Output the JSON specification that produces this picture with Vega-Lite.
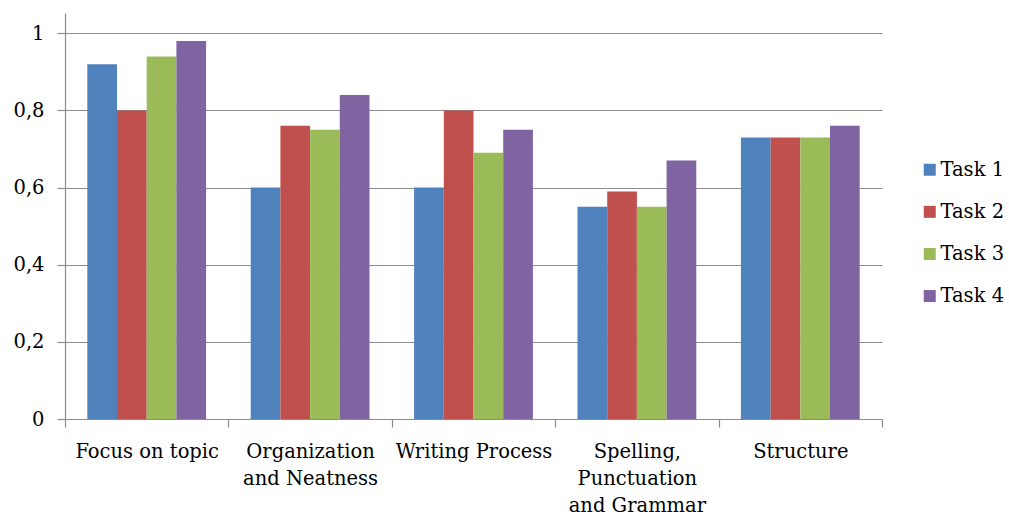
{
  "$schema": "https://vega.github.io/schema/vega-lite/v6.json",
  "autosize": {"type": "none"},
  "padding": {"left": 65, "top": 13, "right": 127, "bottom": 110},
  "width": 817,
  "height": 406,
  "background": "white",
  "config": {
    "view": {"stroke": null},
    "font": "DejaVu Serif",
    "axis": {"labelFont": "DejaVu Serif", "labelFontSize": 19.5, "labelColor": "#000000", "domainColor": "#8c8c8c", "tickColor": "#8c8c8c", "gridColor": "#8c8c8c", "domainWidth": 1.2, "tickWidth": 1.2, "gridWidth": 1.2},
    "legend": {"labelFont": "DejaVu Serif", "labelFontSize": 19.5, "labelColor": "#000000"}
  },
  "data": {
    "values": [
      {"category": "Focus on topic", "task": "Task 1", "value": 0.92},
      {"category": "Focus on topic", "task": "Task 2", "value": 0.80},
      {"category": "Focus on topic", "task": "Task 3", "value": 0.94},
      {"category": "Focus on topic", "task": "Task 4", "value": 0.98},
      {"category": "Organization and Neatness", "task": "Task 1", "value": 0.60},
      {"category": "Organization and Neatness", "task": "Task 2", "value": 0.76},
      {"category": "Organization and Neatness", "task": "Task 3", "value": 0.75},
      {"category": "Organization and Neatness", "task": "Task 4", "value": 0.84},
      {"category": "Writing Process", "task": "Task 1", "value": 0.60},
      {"category": "Writing Process", "task": "Task 2", "value": 0.80},
      {"category": "Writing Process", "task": "Task 3", "value": 0.69},
      {"category": "Writing Process", "task": "Task 4", "value": 0.75},
      {"category": "Spelling, Punctuation and Grammar", "task": "Task 1", "value": 0.55},
      {"category": "Spelling, Punctuation and Grammar", "task": "Task 2", "value": 0.59},
      {"category": "Spelling, Punctuation and Grammar", "task": "Task 3", "value": 0.55},
      {"category": "Spelling, Punctuation and Grammar", "task": "Task 4", "value": 0.67},
      {"category": "Structure", "task": "Task 1", "value": 0.73},
      {"category": "Structure", "task": "Task 2", "value": 0.73},
      {"category": "Structure", "task": "Task 3", "value": 0.73},
      {"category": "Structure", "task": "Task 4", "value": 0.76}
    ]
  },
  "mark": {"type": "bar"},
  "encoding": {
    "x": {
      "field": "category",
      "type": "nominal",
      "sort": null,
      "scale": {"paddingInner": 0, "paddingOuter": 0},
      "axis": {
        "title": null,
        "labelAngle": 0,
        "grid": false,
        "tickBand": "extent",
        "tickSize": 8,
        "labelPadding": 15,
        "labelBaseline": "top",
        "labelLineHeight": 27,
        "labelLimit": 0,
        "labelExpr": "datum.value == 'Organization and Neatness' ? ['Organization', 'and Neatness'] : datum.value == 'Spelling, Punctuation and Grammar' ? ['Spelling,', 'Punctuation', 'and Grammar'] : datum.label"
      }
    },
    "xOffset": {
      "field": "task",
      "type": "nominal",
      "scale": {"paddingInner": 0, "paddingOuter": 0.751}
    },
    "y": {
      "field": "value",
      "type": "quantitative",
      "scale": {"domain": [0, 1.0526], "nice": false},
      "axis": {
        "title": null,
        "values": [0, 0.2, 0.4, 0.6, 0.8, 1],
        "tickSize": 8,
        "labelPadding": 13,
        "labelExpr": "replace(format(datum.value, '~g'), '.', ',')"
      }
    },
    "color": {
      "field": "task",
      "type": "nominal",
      "scale": {"domain": ["Task 1", "Task 2", "Task 3", "Task 4"], "range": ["#4F81BD", "#C0504D", "#9BBB59", "#8064A2"]},
      "legend": {
        "title": null,
        "orient": "none",
        "legendX": 855,
        "legendY": 147,
        "padding": 0,
        "symbolType": "square",
        "symbolSize": 144,
        "symbolStrokeWidth": 0,
        "labelOffset": 1,
        "rowPadding": 21.1
      }
    }
  }
}
